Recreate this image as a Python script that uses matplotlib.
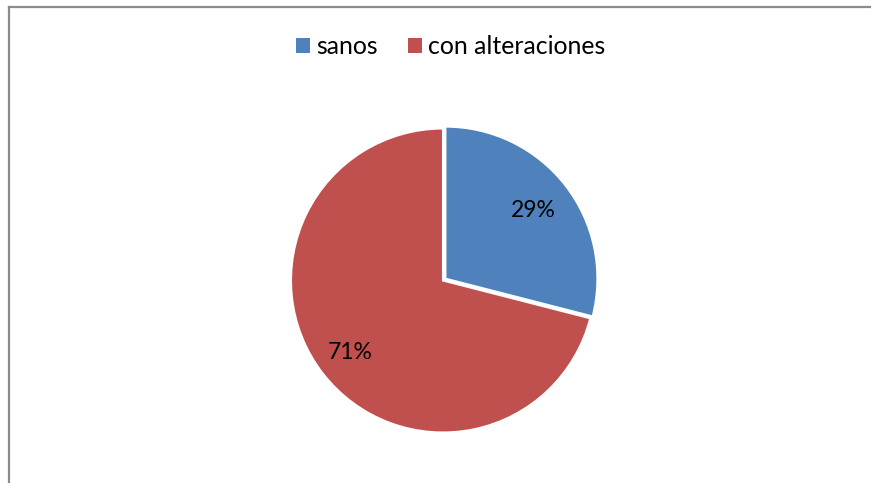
import numpy as np
import matplotlib
matplotlib.use("Agg")
import matplotlib.pyplot as plt
from matplotlib.patches import Patch
from matplotlib.lines import Line2D

plt.rcParams['font.family'] = ['Lato', 'DejaVu Sans']

categories = ["sanos", "con alteraciones"]
values = [29, 71]
colors = ["#4F81BD", "#C0504D"]
explode = [0.02, 0.0]

W, H = 871, 483
fig = plt.figure(figsize=(W / 100, H / 100), dpi=100)

# chart area frame (left and top edges visible)
fig.add_artist(Line2D([8.5 / W, 8.5 / W], [0, 1 - 6.5 / H], transform=fig.transFigure,
                      color="#8c8c8c", lw=1.6))
fig.add_artist(Line2D([8.5 / W, 1], [1 - 6.5 / H, 1 - 6.5 / H], transform=fig.transFigure,
                      color="#8c8c8c", lw=1.6))

# pie axes: centre (443, 280.5) px, radius 152 px
cx, cy, R, half = 443, 280.5, 152, 160
ax = fig.add_axes([(cx - half) / W, (H - cy - half) / H, 2 * half / W, 2 * half / H])
wedges, _ = ax.pie(values, colors=colors, startangle=90, counterclock=False,
                   explode=explode, radius=1.0,
                   wedgeprops=dict(edgecolor="white", linewidth=1.5))
lim = half / R
ax.set_xlim(-lim, lim)
ax.set_ylim(-lim, lim)
ax.set_aspect("equal")
ax.axis("off")

total = sum(values)
label_dist = [0.73, 0.77]
for w, v, d in zip(wedges, values, label_dist):
    ang = np.deg2rad((w.theta1 + w.theta2) / 2)
    ox, oy = w.center
    ax.text(ox + d * np.cos(ang), oy + d * np.sin(ang), f"{round(100 * v / total)}%",
            ha="center", va="center", fontsize=16.5, color="black")

handles = [Patch(facecolor=c, edgecolor="none") for c in colors]
fig.legend(handles, categories, loc="center", bbox_to_anchor=(450.5 / W, 1 - 47 / H),
           ncol=2, frameon=False, fontsize=17.9, handlelength=0.57, handleheight=0.57,
           handletextpad=0.25, columnspacing=1.2, borderpad=0, borderaxespad=0)

fig.savefig("out.png", dpi=100)
